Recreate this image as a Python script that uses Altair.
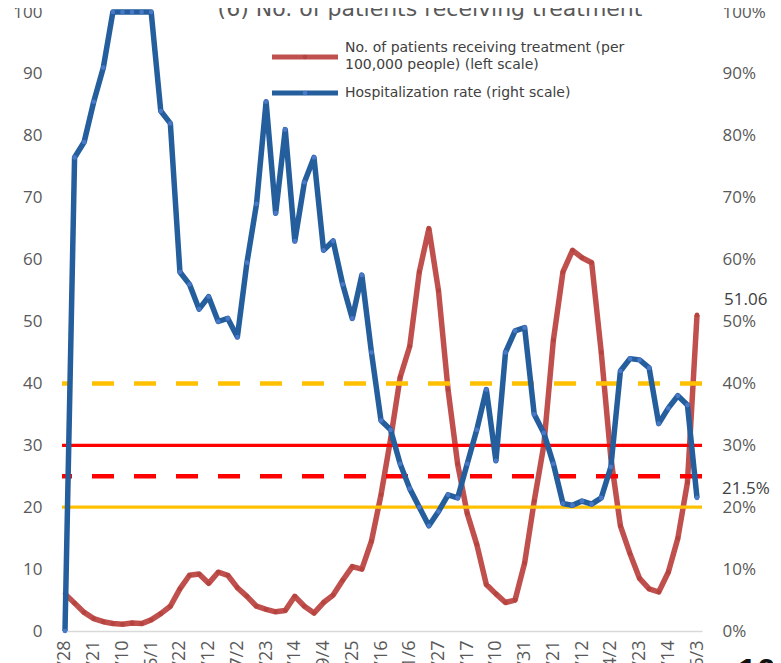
import altair as alt
import pandas as pd

# ---- data ----
date_labels = ["2/28", "3/21", "4/10", "5/1", "5/22", "6/12", "7/2", "7/23",
               "8/14", "9/4", "9/25", "10/16", "11/6", "11/27", "12/17", "1/10",
               "1/31", "2/21", "3/12", "4/2", "4/23", "5/14", "6/3"]

patients = [6.0, 4.5, 3.0, 2.0, 1.5, 1.2, 1.1, 1.3, 1.2, 1.8,
            2.8, 4.0, 6.8, 9.0, 9.2, 7.7, 9.5, 9.0, 7.0, 5.6,
            4.0, 3.5, 3.1, 3.3, 5.6, 4.0, 2.9, 4.6, 5.8, 8.2,
            10.4, 10.0, 14.5, 22.0, 31.0, 41.0, 46.0, 58.0, 65.0, 55.0,
            39.0, 27.0, 19.0, 14.0, 7.5, 6.0, 4.6, 5.0, 11.0, 21.0,
            30.0, 47.0, 58.0, 61.5, 60.3, 59.5, 45.0, 28.0, 17.0, 12.5,
            8.5, 6.8, 6.3, 9.5, 15.0, 24.0, 51.06]

hosp_rate = [0.0, 76.5, 79.0, 85.5, 91.0, 100, 100, 100, 100, 100,
             84.0, 82.0, 58.0, 56.0, 52.0, 54.0, 50.0, 50.5, 47.5, 59.5,
             69.0, 85.5, 67.5, 81.0, 63.0, 72.5, 76.5, 61.5, 63.0, 56.0,
             50.5, 57.5, 45.0, 34.0, 32.5, 27.0, 23.0, 20.0, 17.0, 19.3,
             22.0, 21.5, 27.0, 32.5, 39.0, 27.5, 45.0, 48.5, 49.0, 35.0,
             32.0, 27.0, 20.6, 20.3, 21.0, 20.5, 21.5, 26.5, 42.0, 44.0,
             43.8, 42.5, 33.5, 36.0, 38.0, 36.5, 21.5]

ref_levels = [40, 30, 25, 20]
ref_colors = ["#FFC000", "#FF0000", "#FF0000", "#FFC000"]
ref_dashed = [True, False, True, False]

title_text = "(6) No. of patients receiving treatment"
legend_red = ["No. of patients receiving treatment (per", "100,000 people) (left scale)"]
legend_blue = "Hospitalization rate (right scale)"
last_red_label = "51.06"
last_blue_label = "21.5%"

n = len(patients)
df = pd.DataFrame({"i": list(range(n)), "patients": patients, "hosp": hosp_rate})
last = df.iloc[[-1]].copy()

RED = "#C0504D"
BLUE = "#245E9C"
GRAY = "#595959"
TICK_FONT = "Open Sans"
TXT_FONT = "DejaVu Sans"

lab_arr = "[" + ",".join("'" + s + "'" for s in date_labels) + "]"

x_enc = alt.X(
    "i:Q",
    scale=alt.Scale(domain=[-0.313, 66.52], nice=False, zero=False),
    axis=alt.Axis(values=list(range(0, n, 3)), labelExpr=lab_arr + "[round(datum.value/3)]",
                  labelAngle=-90, labelFont=TICK_FONT, labelFontSize=18, labelColor=GRAY,
                  labelPadding=9, labelOverlap=False, labelBound=False, labelFlush=False,
                  ticks=False, domainColor="#D9D9D9", domainWidth=1.5,
                  grid=False, title=None),
)

left_scale = alt.Scale(domain=[0, 100], nice=False, zero=True)
right_scale = alt.Scale(domain=[0, 100], nice=False, zero=True)

y_left = alt.Y("patients:Q", scale=left_scale,
               axis=alt.Axis(orient="left", values=list(range(0, 101, 10)), ticks=False,
                             domain=False, grid=False, labelPadding=20, title=None,
                             labelOverlap=False,
                             labelFont=TICK_FONT, labelFontSize=17, labelColor=GRAY))

base = alt.Chart(df)

red_line = base.mark_line(
    color=RED, strokeWidth=5.5, strokeJoin="round",
    point=alt.OverlayMarkDef(color="#B5443F", size=22, filled=True, opacity=1),
).encode(x=x_enc, y=y_left)

ref_df = pd.DataFrame({"level": ref_levels, "color": ref_colors, "dashed": ref_dashed})
solid_rules = alt.Chart(ref_df[~ref_df["dashed"]]).mark_rule(strokeWidth=3.2).encode(
    y=alt.Y("level:Q", scale=left_scale), color=alt.Color("color:N", scale=None))
dashed_rules = alt.Chart(ref_df[ref_df["dashed"]]).mark_rule(strokeWidth=4.5, strokeDash=[22, 20]).encode(
    y=alt.Y("level:Q", scale=left_scale), color=alt.Color("color:N", scale=None))

red_label = alt.Chart(last).mark_text(
    align="left", baseline="middle", dx=27, dy=-15, font=TICK_FONT, fontSize=17, color="#404040"
).encode(x=x_enc, y=alt.Y("patients:Q", scale=left_scale), text=alt.value(last_red_label))

one = pd.DataFrame({"a": [0]})
title = alt.Chart(one).mark_text(
    align="center", baseline="alphabetic", font=TXT_FONT, fontSize=22, color=GRAY
).encode(x=alt.value(368), y=alt.value(4), text=alt.value(title_text))

leg_red_line = alt.Chart(one).mark_rule(color=RED, strokeWidth=5).encode(
    x=alt.value(210), x2=alt.value(276), y=alt.value(45))
leg_blue_line = alt.Chart(one).mark_rule(color=BLUE, strokeWidth=5).encode(
    x=alt.value(210), x2=alt.value(276), y=alt.value(81))
leg_red_dot = alt.Chart(one).mark_point(filled=True, size=22, color="#B5443F", opacity=1).encode(
    x=alt.value(243), y=alt.value(45))
leg_blue_dot = alt.Chart(one).mark_point(filled=True, size=22, color="#4A78C8", opacity=1).encode(
    x=alt.value(243), y=alt.value(81))
leg_df = pd.DataFrame({"t": legend_red + [legend_blue], "yy": [36, 53, 81]})
leg_text = alt.Chart(leg_df).mark_text(
    align="left", baseline="middle", font=TXT_FONT, fontSize=14, color="#404040"
).encode(
    x=alt.value(283),
    y=alt.Y("yy:Q", scale=alt.Scale(domain=[0, 619], range=[0, 619]), axis=None),
    text="t:N",
)

page_num = alt.Chart(one).mark_text(
    align="left", baseline="alphabetic", font="Liberation Sans", fontSize=34, fontWeight="bold",
    color="#111111"
).encode(x=alt.value(676), y=alt.value(670), text=alt.value("10"))

left_group = alt.layer(red_line, solid_rules, dashed_rules, red_label)

y_right = alt.Y("hosp:Q", scale=right_scale,
                axis=alt.Axis(orient="right", values=list(range(0, 101, 10)), ticks=False,
                              domain=False, grid=False, labelPadding=20, title=None,
                              labelOverlap=False,
                              labelExpr="datum.value + '%'",
                              labelFont=TICK_FONT, labelFontSize=17, labelColor=GRAY))

blue_line = base.mark_line(
    color=BLUE, strokeWidth=5.5, strokeJoin="round",
    point=alt.OverlayMarkDef(color="#4A78C8", size=22, filled=True, opacity=1),
).encode(x=x_enc, y=y_right)

blue_label = alt.Chart(last).mark_text(
    align="left", baseline="middle", dx=25, dy=-9, font=TICK_FONT, fontSize=17, color="#404040"
).encode(x=x_enc, y=alt.Y("hosp:Q", scale=right_scale), text=alt.value(last_blue_label))

right_group = alt.layer(blue_line, blue_label)

chart = alt.layer(
    left_group, right_group, title, leg_red_line, leg_blue_line, leg_red_dot, leg_blue_dot,
    page_num
).resolve_scale(y="independent")

chart = alt.layer(chart, leg_text).resolve_scale(y="independent").properties(
    width=640, height=619,
    padding={"left": 54, "top": 4, "right": 71, "bottom": 60},
    autosize=alt.AutoSizeParams(type="none"),
).configure_view(stroke=None).configure_axisX(labelOverlap=False)

chart.save("out.html", embed_options={"renderer": "svg", "actions": False})
